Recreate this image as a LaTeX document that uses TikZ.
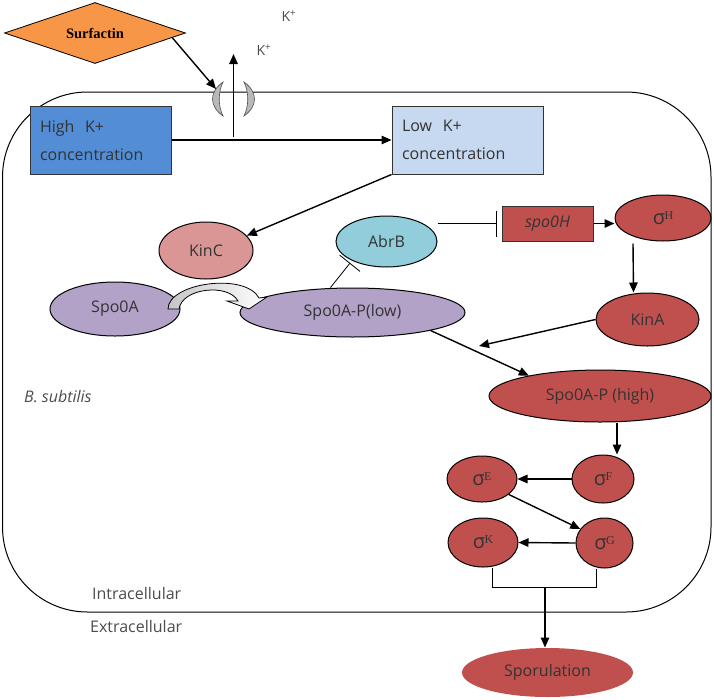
\documentclass[tikz,border=0pt]{standalone}
\usepackage{fontspec}
\setmainfont{Open Sans}
\newfontfamily\surffont{Liberation Serif}
\usetikzlibrary{shapes.geometric,arrows.meta,positioning,calc}
\tikzset{arr/.style={-{Triangle[length=10pt,width=8.5pt]}, line width=1.4pt}}
\tikzset{inh/.style={-{Bar[width=26pt]}, line width=0.8pt}}
\tikzset{box/.style={draw=black!80, line width=1pt, align=left, inner xsep=10pt, text=black!80}}
\tikzset{oval/.style={ellipse, draw=black, line width=1pt, inner sep=1pt, text=black!80}}
\tikzset{lbl/.style={text=black!70, inner sep=0pt}}
\newcommand{\sgm}[1]{σ\kern-0.5pt\raisebox{5pt}{\surffont\fontsize{12}{14}\selectfont #1}}
\definecolor{corange}{RGB}{247,150,70}
\definecolor{chigh}{RGB}{83,141,213}
\definecolor{clow}{RGB}{198,217,241}
\definecolor{ckinc}{RGB}{217,150,148}
\definecolor{cabrb}{RGB}{146,205,220}
\definecolor{cpurple}{RGB}{178,162,199}
\definecolor{cred}{RGB}{192,80,77}

\begin{document}
\begin{tikzpicture}[x=1pt, y=-1pt, font=\fontsize{16}{28}\selectfont]
        \useasboundingbox (0,0) rectangle (714,699);
        \tikzset{sig/.style={oval, fill=cred, font=\fontsize{20}{22}\selectfont}}

        %%% CELL %%%
        \draw[line width=1pt, rounded corners=85pt] (2.5,92) rectangle (711,612);

        %%% OUTSIDE %%%
        \node[draw, diamond, aspect=3, fill=corange, line width=0.8pt, minimum width=181pt, minimum height=61pt, inner sep=1pt,
            font=\surffont\bfseries\fontsize{14.5}{16}\selectfont] (surf) at (95,33) {Surfactin};
        \node[lbl, font=\fontsize{14}{15}\selectfont] (kout) at (289,16) {K\textsuperscript{+}};
        \node[lbl, font=\fontsize{14}{15}\selectfont] (kmid) at (264,50) {K\textsuperscript{+}};
        \coordinate (chan) at (216,89);
        \coordinate (kbot) at (233.5,137);
        \coordinate (ktop) at (233.5,54);

        %%% K+ CHANNEL %%%
        \filldraw[fill=gray!55, draw=black!70, line width=0.6pt] (223,82) .. controls (209,92) and (209,106) .. (223,116)
            .. controls (218,106) and (218,92) .. (223,82) -- cycle;
        \filldraw[fill=gray!55, draw=black!70, line width=0.6pt] (244,82) .. controls (258,92) and (258,106) .. (244,116)
            .. controls (249,106) and (249,92) .. (244,82) -- cycle;

        %%% K+ BOXES %%%
        \node[box, fill=chigh, text width=121pt, minimum height=68pt] (high) at (100.5,140) {High~~K+\\concentration};
        \node[box, fill=clow, text width=131pt, minimum height=68pt] (low) at (467.5,140) {Low~~K+\\concentration};

        %%% PHOSPHORELAY %%%
        \node[oval, fill=ckinc, minimum width=94pt, minimum height=57pt] (kinc) at (206,250.5) {KinC};
        \node[oval, fill=cabrb, minimum width=101pt, minimum height=51pt] (abrb) at (386.5,241.5) {AbrB};
        \node[oval, fill=cpurple, minimum width=130pt, minimum height=54pt] (spo0a) at (115,309) {Spo0A};
        \node[oval, fill=cpurple, minimum width=225pt, minimum height=49pt] (sp0l) at (352.5,312.5) {Spo0A-P(low)};
        \node[box, fill=cred, align=center, inner xsep=3pt, minimum width=91pt, minimum height=35pt,
            font=\fontsize{16}{18}\selectfont\itshape] (spo0h) at (547.5,223.5) {spo0H};
        \node[sig, minimum width=96pt, minimum height=46pt] (sigh) at (663,218) {\sgm{H}};
        \node[sig, font=\fontsize{16}{18}\selectfont, minimum width=103pt, minimum height=53pt] (kina) at (647.5,319.5) {KinA};
        \node[sig, font=\fontsize{16}{18}\selectfont, minimum width=222pt, minimum height=52pt] (sp0h) at (600,396) {Spo0A-P (high)};

        %%% SIGMA CASCADE %%%
        \node[sig, minimum width=62pt, minimum height=48pt] (sigf) at (603,479) {\sgm{F}};
        \node[sig, minimum width=70pt, minimum height=46pt] (sige) at (482,479) {\sgm{E}};
        \node[sig, minimum width=70pt, minimum height=49pt] (sigk) at (483,542.5) {\sgm{K}};
        \node[sig, minimum width=57pt, minimum height=50pt] (sigg) at (604.5,543) {\sgm{G}};
        \node[sig, draw=none, font=\fontsize{16}{18}\selectfont, minimum width=171pt, minimum height=49pt] (spor) at (547.5,672.5) {Sporulation};
        \coordinate (join) at (545,587);
        \coordinate (kinatip) at (479,346);

        %%% LABELS %%%
        \node[lbl, anchor=west, font=\fontsize{16}{18}\selectfont\itshape] (bsub) at (24,397) {B. subtilis};
        \node[lbl, anchor=west] (intra) at (92,593) {Intracellular};
        \node[lbl, anchor=west] (extra) at (90,626) {Extracellular};

        %%% SPO0A PHOSPHORYLATION %%%
        \draw[left color=gray!45, right color=white, draw=black, line width=0.8pt]
            (168,309) .. controls (168,283) and (245,272) .. (259,298) -- (267,297) -- (249,309) -- (227,301) -- (238,301)
            .. controls (228,283) and (182,288) .. (179,309) -- cycle;

        %%% ARROWS %%%
        \draw[arr] ($(surf.east)!0.15!(surf.south)$) -- (chan);
        \draw[arr] (kbot) -- (ktop);
        \draw[arr] (high.east) -- (low.west);
        \draw[arr] (low.south west) -- (kinc.20);
        \draw[inh, shorten >=3pt] ($(sp0l.north)+(-22,0)$) -- (abrb.209);
        \draw[inh] (abrb.east |- spo0h.west) -- ([xshift=-5pt]spo0h.west);
        \draw[arr] (spo0h.east) -- (spo0h.east -| sigh.west);
        \draw[arr] ($(sigh.south)+(-30,2)$) -- ($(kina.north)+(-14,0)$);
        \draw[arr] (kina.west) -- (kinatip);
        \draw[arr] (sp0l.-13) -- (sp0h.164);
        \draw[arr] ([xshift=17pt]sp0h.south) -- ([xshift=14pt]sigf.north);
        \draw[arr] (sigf.west) -- (sige.east);
        \draw[arr] (sige.-30) -- (sigg.150);
        \draw[arr] (sigg.west) -- (sigk.east);
        \draw[line width=0.8pt] ([xshift=9pt]sigk.south) -- ([xshift=9pt]sigk.south |- join) -- ([xshift=-8pt]sigg.south |- join) -- ([xshift=-8pt]sigg.south);
        \draw[arr] (join) -- (join |- spor.north);
    \end{tikzpicture}
\end{document}
